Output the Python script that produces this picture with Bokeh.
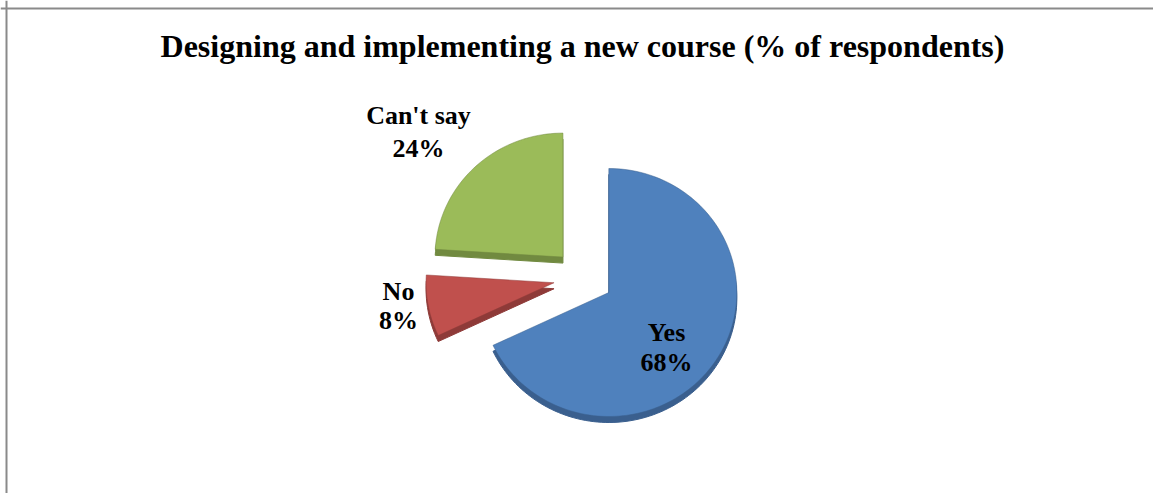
import numpy as np
from bokeh.plotting import figure
from bokeh.models import Range1d, Span
from bokeh.core.properties import value
from bokeh.embed import file_html
from bokeh.resources import INLINE

# ---- data ----
title_text = "Designing and implementing a new course (% of respondents)"
categories = ["Yes", "No", "Can't say"]
percents = [68, 8, 24]
colors = ["#4F81BD", "#C0504D", "#9BBB59"]
side_colors = ["#3A5F8E", "#8E3A38", "#718A40"]

# ---- layout ----
W, H = 1153, 493
CX, CY = 583, 277          # pie centre in page pixels
RX, RY = 128, 124          # pie radii (px)
EX, EY = 30, 28            # explode distance
DEPTH = 6                  # 3-D rim thickness
FONT = value("Liberation Serif")
LABEL_FS, TITLE_FS = 26, 32
# label anchor (baseline of category name) relative to pie centre
label_offsets = [(83, -65), (-185, -24), (-165, 152)]
pct_gap = [30, 29, 33]

p = figure(width=W, height=H,
           x_range=Range1d(-CX, W - CX),
           y_range=Range1d(CY - H, CY),
           x_axis_location=None, y_axis_location=None,
           output_backend="svg", toolbar_location=None, min_border=0)
p.grid.visible = False
p.outline_line_color = None
p.background_fill_color = "white"
p.border_fill_color = "white"

# frame lines (top and left)
p.add_layout(Span(location=CY - 8, dimension="width", line_color="#8a8a8a", line_width=2))
p.add_layout(Span(location=6 - CX, dimension="height", line_color="#8a8a8a", line_width=2))

vals = np.array(percents, dtype=float) / sum(percents)
cum = np.concatenate([[0.0], np.cumsum(vals)]) * 2 * np.pi

tops_x, tops_y, sides_x, sides_y = [], [], [], []
for i in range(len(categories)):
    a0, a1 = cum[i], cum[i + 1]
    mid = 0.5 * (a0 + a1)
    vx, vy = EX * np.sin(mid), EY * np.cos(mid)
    n = max(8, int(200 * (a1 - a0) / (2 * np.pi)))
    phi = np.linspace(a0, a1, n)
    xs = np.concatenate([[vx], vx + RX * np.sin(phi)])
    ys = np.concatenate([[vy], vy + RY * np.cos(phi)])
    tops_x.append(xs.tolist()); tops_y.append(ys.tolist())
    sides_x.append(xs.tolist()); sides_y.append((ys - DEPTH).tolist())

p.patches(sides_x, sides_y, fill_color=side_colors, line_color=side_colors, line_width=1)
p.patches(tops_x, tops_y, fill_color=colors, line_color=side_colors, line_width=1, line_alpha=0.5)

# labels (small baseline correction for svg text placement)
lc = 0.37 * LABEL_FS
for i, cat in enumerate(categories):
    lx, ly = label_offsets[i]
    p.text(x=[lx], y=[ly + lc], text=[cat], text_font=FONT, text_font_style="bold",
           text_font_size=f"{LABEL_FS}px", text_align="center", text_baseline="alphabetic",
           text_color="black")
    p.text(x=[lx], y=[ly - pct_gap[i] + lc], text=[f"{percents[i]}%"], text_font=FONT,
           text_font_style="bold", text_font_size=f"{LABEL_FS}px", text_align="center",
           text_baseline="alphabetic", text_color="black")

# title
p.text(x=[582 - CX], y=[CY - 57 + 0.37 * TITLE_FS], text=[title_text], text_font=FONT,
       text_font_style="bold", text_font_size=f"{TITLE_FS}px", text_align="center",
       text_baseline="alphabetic", text_color="black")

open("out.html", "w").write(file_html(p, INLINE))
